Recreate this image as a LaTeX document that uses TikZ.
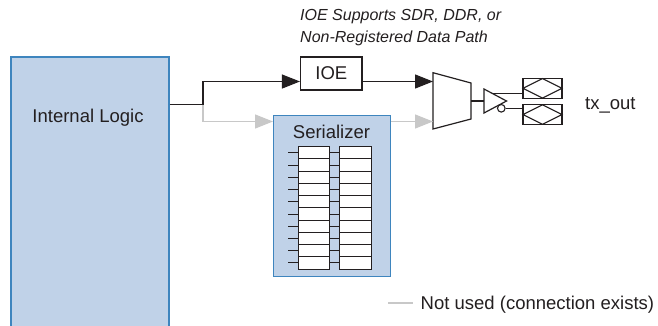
\documentclass[tikz,border=0pt]{standalone}
\usepackage{fontspec}
\setmainfont{Liberation Sans}
\usetikzlibrary{arrows.meta}
\definecolor{boxfill}{RGB}{192,210,232}
\definecolor{boxline}{RGB}{62,133,190}
\definecolor{unused}{RGB}{200,200,200}
\definecolor{ink}{RGB}{35,31,32}
\begin{document}
\begin{tikzpicture}[x=1pt,y=-1pt,
  every node/.style={text=ink},
  bluebox/.style={draw=boxline, fill=boxfill, line width=1.6pt, inner sep=0},
  lbl/.style={font=\fontsize{18.5}{22}\selectfont, inner sep=0, anchor=base},
  caption/.style={font=\fontsize{16}{21.7}\selectfont\itshape, inner sep=0, align=left},
  blk/.style={draw=ink, line width=1.2pt},
  gry/.style={draw=unused, line width=1.2pt},
  arr/.style={-{Triangle[length=18pt,width=14pt]}},
  reg/.style={draw=ink, fill=white, line width=0.9pt, minimum height=12.23pt, inner sep=0},
  obox/.style={draw=ink, fill=white, line width=1.1pt, minimum width=39pt, minimum height=19.5pt, inner sep=0, outer sep=0},
]
\clip (0,0) rectangle (658,325);
\fill[white] (0,0) rectangle (658,325);

% caption
\node[caption, anchor=north west] (cap) at (300,9.4) {IOE Supports SDR, DDR, or\\Non-Registered Data Path};

% internal logic
\node[bluebox, anchor=north west, minimum width=158pt, minimum height=290pt] (il) at (10,56) {};
\node[lbl] (iltxt) at (88,122) {Internal Logic};

% serializer
\node[bluebox, line width=1.4pt, anchor=north west, minimum width=117pt, minimum height=161pt] (ser) at (273,115) {};
\node[lbl] (sertxt) at (331.5,138.3) {Serializer};
\foreach \i in {1,...,10} {
  \pgfmathsetmacro\yy{146.7+(\i-0.5)*12.23}
  \node[reg, minimum width=31pt] (ra\i) at (313.5,\yy) {};
  \node[reg, minimum width=32pt] (rb\i) at (355,\yy) {};
  \coordinate (st\i) at (288,\yy);
  \draw[blk, line width=0.9pt] (st\i) -- (ra\i.west);
  \draw[blk, line width=0.9pt] (ra\i.east) -- (rb\i.west);
}

% IOE
\node[obox, line width=1.2pt, minimum width=61.5pt, minimum height=33pt, outer sep=0.6pt, font=\fontsize{18.5}{22}\selectfont] (ioe) at (331.3,73.4) {IOE};

% connections from internal logic
\coordinate (jn) at (203,104.3);
\draw[gry, arr] (jn) |- (ser.west |- 0,121.5);
\draw[blk, arr] (il.east |- jn) -- (jn) |- (ioe.west |- 0,81.5);

% mux
\coordinate (muxin1) at (433,81.5);
\coordinate (muxin2) at (433,121.5);
\coordinate (muxout) at (471,101);
\draw[blk, fill=white] (433,72.7) -- (471,83) -- (471,119) -- (433,129) -- cycle;
\draw[blk, arr] (ioe.east |- muxin1) -- (muxin1);
\draw[gry, arr] (ser.east |- muxin2) -- (muxin2);

% buffer
\coordinate (bufin) at (484,101);
\draw[blk] (muxout) -- (bufin);
\draw[blk, fill=white] (484,89) -- (506.5,101) -- (484,113) -- cycle;
\node[draw=ink, line width=1.1pt, fill=white, circle, minimum size=7.6pt, inner sep=0] (bub) at (501.3,108.3) {};

% output boxes
\node[obox] (ob1) at (542.5,88.3) {};
\node[obox] (ob2) at (542.5,114.6) {};
\draw[blk, line width=1.1pt] (ob1.west) -- (ob1.north) -- (ob1.east) -- (ob1.south) -- cycle;
\draw[blk, line width=1.1pt] (ob2.west) -- (ob2.north) -- (ob2.east) -- (ob2.south) -- cycle;
\coordinate (bt) at (492.5,93.5);
\draw[blk] (bt) -- (bt -| ob1.west);
\draw[blk] (bub.east) -- (bub.east -| ob2.west);

\node[lbl, anchor=base west] (txout) at (585,109) {tx\_out};

% legend
\coordinate (lg1) at (388,303);
\coordinate (lg2) at (413,303);
\draw[gry] (lg1) -- (lg2);
\node[lbl, anchor=base west] (legend) at (420.5,309) {Not used (connection exists)};
\end{tikzpicture}
\end{document}
